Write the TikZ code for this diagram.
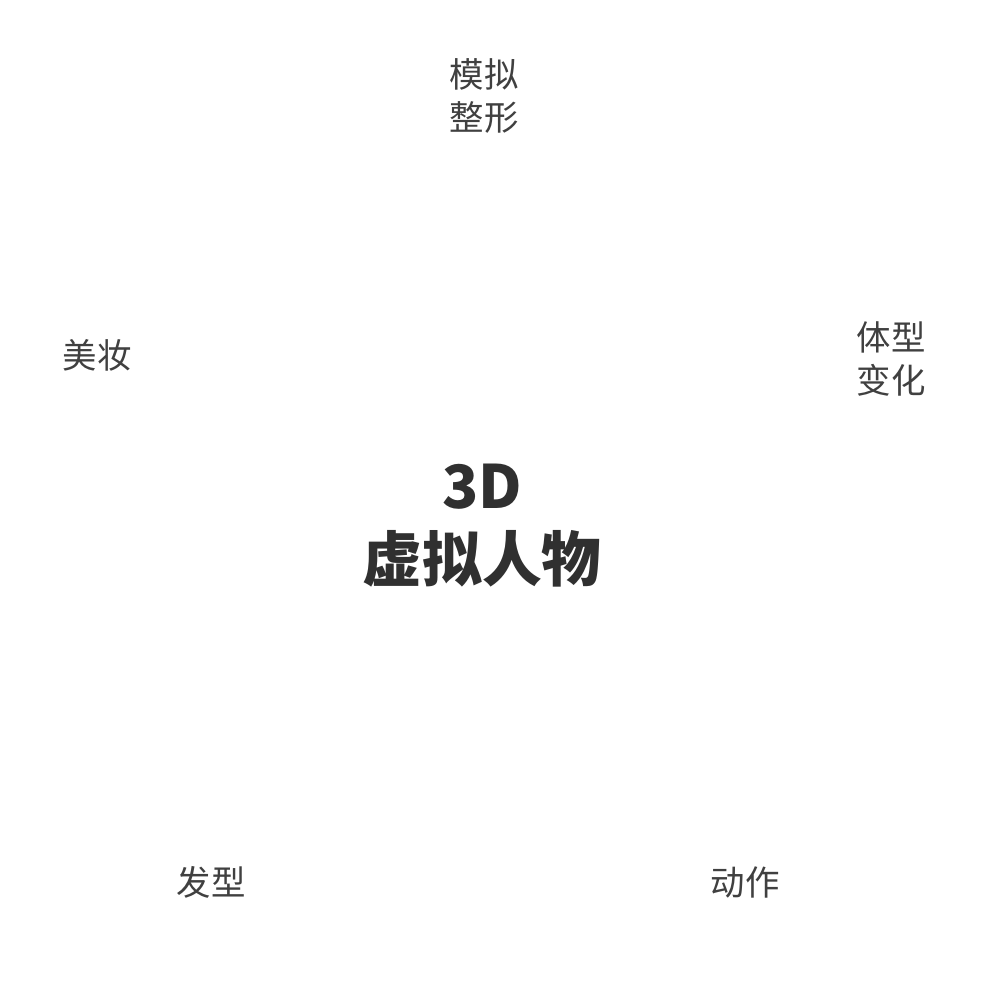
\documentclass[tikz,border=0pt]{standalone}
\usepackage{fontspec}
\setmainfont{Noto Sans CJK SC}
\usepackage{tikz}
\definecolor{labelgray}{RGB}{64,64,64}
\definecolor{coregray}{RGB}{48,48,48}

\begin{document}
\begin{tikzpicture}[x=0.02cm,y=-0.02cm,
  item/.style={align=center,inner sep=0pt,text=labelgray,font=\fontsize{19.6}{25}\selectfont},
  core/.style={align=center,inner sep=0pt,text=coregray,font=\fontsize{34}{41.5}\selectfont\bfseries}]
  \useasboundingbox (0,0) rectangle (986,980);
  \node[core] (hub) at (482,526) {3D\\虚拟人物};
  \node[item] (shape) at (484,96) {模拟\\整形};
  \node[item] (makeup) at (97,355) {美妆};
  \node[item] (body) at (891,359) {体型\\变化};
  \node[item] (hair) at (211,882) {发型};
  \node[item] (motion) at (745,882) {动作};
\end{tikzpicture}
\end{document}
